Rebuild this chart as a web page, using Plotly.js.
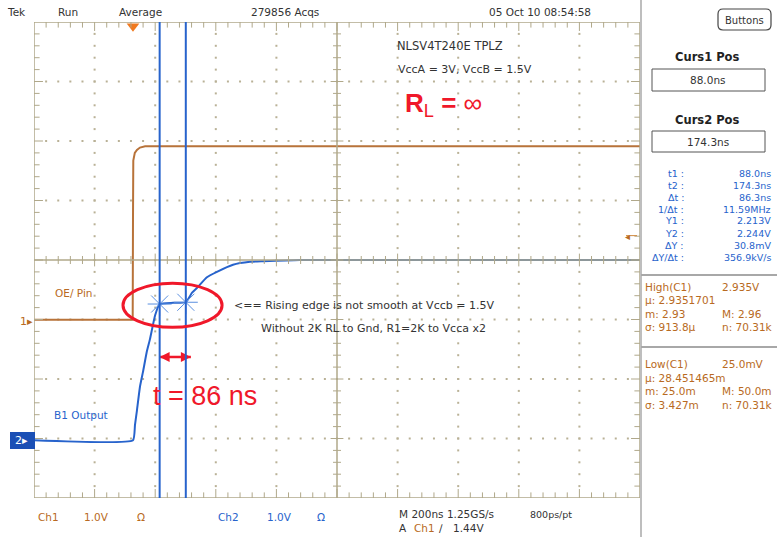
<!DOCTYPE html>
<html><head><meta charset="utf-8">
<script src="https://cdn.plot.ly/plotly-3.0.1.min.js"></script>
<style>html,body{margin:0;padding:0;background:#fff}#c{width:777px;height:537px}</style>
</head><body><div id="c"></div>
<script>
// ---- data (time in ns, voltages in V) ----
const ch1Time = [-326.7, -1, 0, 1, 6, 13, 23, 40, 1673.3];
const ch1Volts = [0.025, 0.025, 1.7, 2.7, 2.83, 2.88, 2.92, 2.94, 2.94];
const ch2Time = [-326.7, 0, 6.6, 13, 23, 33, 46, 56, 73, 88, 132, 174.3, 195, 211, 244, 277, 330, 386, 429, 551, 1673.3];
const ch2Volts = [0.0, 0.0, 0.26, 0.5, 0.9, 1.15, 1.5, 1.7, 2.1, 2.29, 2.31, 2.32, 2.48, 2.56, 2.74, 2.83, 2.95, 3.0, 3.01, 3.03, 3.03];
const cursorTimes = [88.0, 174.3];
const cursorVolts = [2.29, 2.32];
const readLabels = ["t1 :", "t2 :", "\u0394t :", "1/\u0394t :", "Y1 :", "Y2 :", "\u0394Y :", "\u0394Y/\u0394t :"];
const readValues = ["88.0ns", "174.3ns", "86.3ns", "11.59MHz", "2.213V", "2.244V", "30.8mV", "356.9kV/s"];
const ch1Scale = 1.0, ch2Scale = 1.0;      // V/div
const ch1Pos = -1.03, ch2Pos = -3.03;      // ground position in divisions
const trigLevel = 1.44;

// ---- geometry ----
const X0 = -326.7, X1 = 1673.3;            // 10 div * 200 ns
const L = 34, R = 640, T = 22, B = 498;
const GRID = '#b9b196', FRAME = '#b0a88a';
const ORANGE = '#b8733a', BLUE = '#2763cc', RED = '#f0182a', TXT = '#333333';
const FONT = 'DejaVu Sans, Verdana, sans-serif';

const toDiv = (v, s, p) => v.map(x => x / s + p);
const px = x => (x - L) / (R - L);
const py = y => (B - y) / (B - T);

function T_(text, x, y, o) {
  o = o || {};
  return {xref: 'paper', yref: 'paper', x: px(x), y: py(y), text: text, showarrow: false,
    xanchor: o.anchor || 'left', yanchor: 'middle',
    font: {family: o.family || FONT, size: o.size || 10.5, color: o.color || TXT, weight: o.weight || 'normal'}};
}

// graticule dots (every 1/5 division along the grid lines)
const dotX = [], dotY = [];
for (let k = 1; k < 10; k++) { if (k === 5) continue; for (let j = 1; j < 40; j++) { dotX.push(X0 + 200 * k); dotY.push(-4 + 0.2 * j); } }
for (let k = -3; k <= 3; k++) { if (k === 0) continue; for (let j = 1; j < 50; j++) { dotX.push(X0 + 40 * j); dotY.push(k); } }

const shapes = [];
shapes.push({type: 'line', xref: 'x', yref: 'y', x0: X0, x1: X1, y0: 0, y1: 0, line: {color: FRAME, width: 1.5}});
shapes.push({type: 'line', xref: 'x', yref: 'y', x0: X0 + 1000, x1: X0 + 1000, y0: -4, y1: 4, line: {color: FRAME, width: 1.5}});
shapes.push({type: 'rect', xref: 'x', yref: 'y', x0: X0, x1: X1, y0: -4, y1: 4, line: {color: FRAME, width: 1.5}});
const tdy = 4 / 59.5, tdx = 4 * 2000 / 606;
for (let k = 1; k < 50; k++) {
  const x = X0 + 40 * k, big = (k % 5 === 0) ? 1.6 : 1;
  shapes.push({type: 'line', xref: 'x', yref: 'y', x0: x, x1: x, y0: -tdy * big, y1: tdy * big, line: {color: FRAME, width: 1}});
  shapes.push({type: 'line', xref: 'x', yref: 'y', x0: x, x1: x, y0: 4, y1: 4 - 1.4 * tdy * big, line: {color: FRAME, width: 1}});
  shapes.push({type: 'line', xref: 'x', yref: 'y', x0: x, x1: x, y0: -4, y1: -4 + 1.4 * tdy * big, line: {color: FRAME, width: 1}});
}
for (let k = 1; k < 40; k++) {
  const y = -4 + 0.2 * k, big = (k % 5 === 0) ? 1.6 : 1;
  shapes.push({type: 'line', xref: 'x', yref: 'y', x0: X0 + 1000 - tdx * big, x1: X0 + 1000 + tdx * big, y0: y, y1: y, line: {color: FRAME, width: 1}});
  shapes.push({type: 'line', xref: 'x', yref: 'y', x0: X0, x1: X0 + 1.4 * tdx * big, y0: y, y1: y, line: {color: FRAME, width: 1}});
  shapes.push({type: 'line', xref: 'x', yref: 'y', x0: X1, x1: X1 - 1.4 * tdx * big, y0: y, y1: y, line: {color: FRAME, width: 1}});
}
cursorTimes.forEach(t => shapes.push({type: 'line', xref: 'x', yref: 'y', x0: t, x1: t, y0: -4, y1: 4, line: {color: BLUE, width: 2}}));
shapes.push({type: 'circle', xref: 'x', yref: 'y', x0: -33, x1: 294, y0: -1.13, y1: -0.39, line: {color: RED, width: 3}});
shapes.push({type: 'line', xref: 'paper', yref: 'paper', x0: px(641), x1: px(641), y0: py(0), y1: py(537), line: {color: '#a8a8a8', width: 1.5}});
shapes.push({type: 'line', xref: 'paper', yref: 'paper', x0: px(641), x1: px(777), y0: py(275), y1: py(275), line: {color: '#a8a8a8', width: 2}});
shapes.push({type: 'line', xref: 'paper', yref: 'paper', x0: px(641), x1: px(777), y0: py(347), y1: py(347), line: {color: '#a8a8a8', width: 2}});
shapes.push({type: 'rect', xref: 'paper', yref: 'paper', x0: px(652), x1: px(765), y0: py(69), y1: py(91), line: {color: '#555', width: 1}});
shapes.push({type: 'rect', xref: 'paper', yref: 'paper', x0: px(652), x1: px(765), y0: py(131), y1: py(152), line: {color: '#555', width: 1}});
(function () {
  const x0 = 718, x1 = 771, y0 = 9, y1 = 30, r = 5;
  const p = (x, y) => (px(x)) + ',' + (py(y));
  shapes.push({type: 'path', xref: 'paper', yref: 'paper',
    path: 'M' + p(x0 + r, y0) + ' L' + p(x1 - r, y0) + ' Q' + p(x1, y0) + ' ' + p(x1, y0 + r) + ' L' + p(x1, y1 - r) +
      ' Q' + p(x1, y1) + ' ' + p(x1 - r, y1) + ' L' + p(x0 + r, y1) + ' Q' + p(x0, y1) + ' ' + p(x0, y1 - r) +
      ' L' + p(x0, y0 + r) + ' Q' + p(x0, y0) + ' ' + p(x0 + r, y0) + ' Z', line: {color: '#444', width: 1.2}});
})();
shapes.push({type: 'rect', xref: 'paper', yref: 'paper', x0: px(10), x1: px(35), y0: py(432), y1: py(449), fillcolor: '#1a4fb5', line: {width: 0}});
shapes.push({type: 'line', xref: 'paper', yref: 'y', x0: px(626), x1: px(637), y0: trigLevel / ch1Scale + ch1Pos, y1: trigLevel / ch1Scale + ch1Pos, line: {color: '#d08a40', width: 1}});

const ann = [];
ann.push(T_('Tek', 5, 12), T_('Run', 56, 12), T_('Average', 117, 12), T_('279856 Acqs', 249, 12), T_('05 Oct 10 08:54:58', 487, 12));
ann.push(T_('Buttons', 744.5, 20, {anchor: 'center', size: 10}));
ann.push(T_('Curs1 Pos', 707, 57, {anchor: 'center', size: 11.5, weight: 'bold', color: '#222'}));
ann.push(T_('88.0ns', 708, 80, {anchor: 'center'}));
ann.push(T_('Curs2 Pos', 707, 120, {anchor: 'center', size: 11.5, weight: 'bold', color: '#222'}));
ann.push(T_('174.3ns', 708, 142, {anchor: 'center'}));
const rowY = [173, 185, 197, 209, 221, 233, 245, 257];
readLabels.forEach((s, i) => ann.push(T_(s, 686, rowY[i], {anchor: 'right', color: BLUE, size: 9.5})));
readValues.forEach((s, i) => ann.push(T_(s, 773, rowY[i], {anchor: 'right', color: BLUE, size: 9.5})));
const OC = '#b86a22';
ann.push(T_('High(C1)', 643, 287, {color: OC}), T_('2.935V', 720, 287, {color: OC}));
ann.push(T_('\u03bc: 2.9351701', 643, 300, {color: OC}));
ann.push(T_('m: 2.93', 643, 314, {color: OC}), T_('M: 2.96', 720, 314, {color: OC}));
ann.push(T_('\u03c3: 913.8\u03bc', 643, 327, {color: OC}), T_('n: 70.31k', 720, 327, {color: OC}));
ann.push(T_('Low(C1)', 643, 364, {color: OC}), T_('25.0mV', 720, 364, {color: OC}));
ann.push(T_('\u03bc: 28.451465m', 643, 378, {color: OC}));
ann.push(T_('m: 25.0m', 643, 391, {color: OC}), T_('M: 50.0m', 720, 391, {color: OC}));
ann.push(T_('\u03c3: 3.427m', 643, 405, {color: OC}), T_('n: 70.31k', 720, 405, {color: OC}));
ann.push(T_('Ch1', 36, 517, {color: OC}), T_('1.0V', 82, 517, {color: OC}), T_('\u03a9', 135, 517, {color: OC}));
ann.push(T_('Ch2', 216, 517, {color: BLUE}), T_('1.0V', 265, 517, {color: BLUE}), T_('\u03a9', 315, 517, {color: BLUE}));
ann.push(T_('M 200ns 1.25GS/s', 397, 514), T_('800ps/pt', 528, 514, {size: 9.5}));
ann.push(T_('A', 397, 528), T_('Ch1', 412, 528, {color: OC}), T_('\u2215', 437, 528), T_('1.44V', 451, 528));
ann.push(T_('NLSV4T240E TPLZ', 395, 46, {size: 11.5}));
ann.push(T_('VccA = 3V, VccB = 1.5V', 396, 70, {size: 11}));
ann.push(T_('<b>R</b><sub>L</sub> <b>=</b> \u221e', 403, 104, {size: 26, color: RED, family: 'Liberation Sans, Arial, sans-serif'}));
ann.push(T_('OE/ Pin', 53, 293, {color: OC}));
ann.push(T_('B1 Output', 52, 415, {color: BLUE}));
ann.push(T_('<== Rising edge is not smooth at Vccb = 1.5V', 232, 305, {size: 11}));
ann.push(T_('Without 2K RL to Gnd, R1=2K to Vcca x2', 259, 329, {size: 11}));
ann.push(T_('t = 86 ns', 151, 396, {size: 27, color: RED, family: 'Liberation Sans, Arial, sans-serif'}));
ann.push(T_('1\u25b8', 18, 321, {color: OC, size: 11}));
ann.push(T_('2\u25b8', 13, 440, {color: '#ffffff', size: 11}));
ann.push({xref: 'paper', yref: 'y', x: px(627), y: trigLevel / ch1Scale + ch1Pos, text: '\u25c2', showarrow: false,
  font: {size: 10, color: OC}, xanchor: 'center', yanchor: 'middle'});

const arrowY = -1.63, arrowEnd = 191;
const data = [
  {x: dotX, y: dotY, mode: 'markers', marker: {symbol: 'square', size: 2, color: GRID}, hoverinfo: 'skip'},
  {x: ch1Time, y: toDiv(ch1Volts, ch1Scale, ch1Pos), mode: 'lines', line: {color: ORANGE, width: 2}, hoverinfo: 'skip'},
  {x: ch2Time, y: toDiv(ch2Volts, ch2Scale, ch2Pos), mode: 'lines', line: {color: BLUE, width: 2, shape: 'spline', smoothing: 0.4}, hoverinfo: 'skip'},
  {x: cursorTimes, y: toDiv(cursorVolts, ch2Scale, ch2Pos), mode: 'markers', marker: {symbol: 'asterisk-open', size: 20, color: '#5a8fe0', line: {color: '#5a8fe0', width: 1}}, hoverinfo: 'skip'},
  {x: [cursorTimes[0], arrowEnd], y: [arrowY, arrowY], mode: 'lines+markers', line: {color: RED, width: 2.5},
    marker: {symbol: ['arrow-left', 'arrow-right'], size: 10, color: RED}, hoverinfo: 'skip'},
  {x: [0], y: [3.93], mode: 'markers', marker: {symbol: 'triangle-down', size: 11, color: '#f07a20'}, cliponaxis: false, hoverinfo: 'skip'}
];

const layout = {
  width: 777, height: 537, showlegend: false,
  margin: {l: L, r: 777 - R, t: T, b: 537 - B, pad: 0},
  paper_bgcolor: '#ffffff', plot_bgcolor: '#ffffff',
  xaxis: {range: [X0, X1], showgrid: false, zeroline: false, showticklabels: false, ticks: '', fixedrange: true},
  yaxis: {range: [-4, 4], showgrid: false, zeroline: false, showticklabels: false, ticks: '', fixedrange: true},
  shapes: shapes, annotations: ann
};
Plotly.newPlot('c', data, layout, {staticPlot: true, displayModeBar: false});
</script></body></html>
